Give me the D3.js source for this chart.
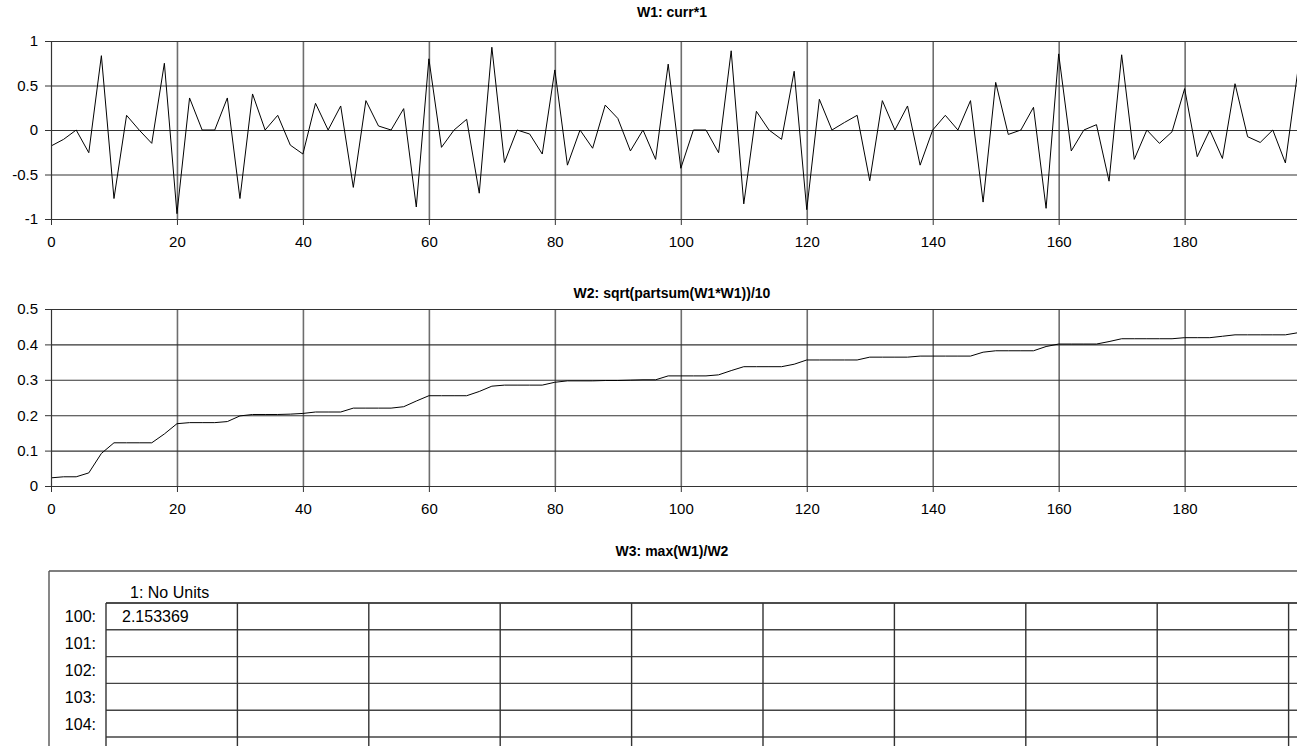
<!DOCTYPE html>
<html>
<head>
<meta charset="utf-8">
<script src="https://cdn.jsdelivr.net/npm/d3@7"></script>
<style>
  html, body { margin: 0; padding: 0; background: #fff; }
  svg { display: block; }
  text { font-family: "Liberation Sans", Arial, sans-serif; fill: #000; }
</style>
</head>
<body>
<svg id="chart" width="1297" height="746"></svg>
<script>
// ---------------- data ----------------
const xValues = d3.range(0, 200, 2); // sample positions 0..198

const w1Values = [
  -0.18, -0.105, 0, -0.255, 0.835, -0.77, 0.165, 0.0, -0.15, 0.75,
  -0.94, 0.36, 0, 0, 0.36, -0.77, 0.405, 0, 0.165, -0.17,
  -0.27, 0.30, 0, 0.27, -0.645, 0.33, 0.045, 0.0, 0.24, -0.865,
  0.80, -0.195, 0, 0.12, -0.71, 0.93, -0.365, 0, -0.045, -0.27,
  0.675, -0.395, 0, -0.205, 0.28, 0.13, -0.235, 0, -0.33, 0.74,
  -0.43, 0, 0, -0.255, 0.89, -0.83, 0.21, 0, -0.105, 0.66,
  -0.895, 0.345, 0, 0.085, 0.165, -0.57, 0.33, 0, 0.27, -0.395,
  0, 0.165, 0, 0.33, -0.81, 0.535, -0.05, 0, 0.255, -0.88,
  0.855, -0.235, 0, 0.06, -0.575, 0.845, -0.33, 0, -0.15, -0.02,
  0.465, -0.30, 0, -0.32, 0.52, -0.075, -0.14, 0, -0.37, 0.68
];

const w2Values = [
  0.023, 0.026, 0.026, 0.037, 0.092, 0.122, 0.122, 0.122, 0.122, 0.147,
  0.176, 0.179, 0.179, 0.179, 0.182, 0.198, 0.202, 0.202, 0.202, 0.203,
  0.205, 0.209, 0.209, 0.209, 0.220, 0.220, 0.220, 0.220, 0.224, 0.240,
  0.255, 0.255, 0.255, 0.255, 0.267, 0.282, 0.285, 0.285, 0.285, 0.285,
  0.293, 0.297, 0.297, 0.297, 0.298, 0.298, 0.299, 0.300, 0.300, 0.311,
  0.311, 0.311, 0.311, 0.314, 0.326, 0.337, 0.337, 0.337, 0.337, 0.344,
  0.356, 0.356, 0.356, 0.356, 0.356, 0.364, 0.364, 0.364, 0.364, 0.367,
  0.367, 0.367, 0.367, 0.367, 0.378, 0.382, 0.382, 0.382, 0.382, 0.394,
  0.401, 0.401, 0.401, 0.401, 0.408, 0.416, 0.416, 0.416, 0.416, 0.416,
  0.419, 0.419, 0.419, 0.423, 0.427, 0.427, 0.427, 0.427, 0.427, 0.433
];

const xTicks = [0, 20, 40, 60, 80, 100, 120, 140, 160, 180];
const w1Ticks = [-1, -0.5, 0, 0.5, 1];
const w2Ticks = [0, 0.1, 0.2, 0.3, 0.4, 0.5];

const titles = ["W1: curr*1", "W2: sqrt(partsum(W1*W1))/10", "W3: max(W1)/W2"];

const tableHeader = "1: No Units";
const tableRows = ["100:", "101:", "102:", "103:", "104:"];
const tableCells = ["2.153369", "", "", "", ""];

// ---------------- drawing ----------------
const svg = d3.select("#chart");
const W = 1297;
const plotLeft = 51;
const plotRight = 1298;

const x = d3.scaleLinear().domain([0, 198]).range([plotLeft, plotRight]);

function drawPanel(cfg) {
  const y = d3.scaleLinear().domain(cfg.domain).range([cfg.bottom, cfg.top]);
  const g = svg.append("g");
  const h = cfg.bottom - cfg.top;

  // vertical gridlines
  g.append("g")
    .attr("transform", `translate(0,${cfg.bottom})`)
    .call(d3.axisBottom(x).tickValues(xTicks.filter(t => t > 0)).tickSize(-h).tickFormat(""))
    .call(s => s.select(".domain").remove())
    .call(s => s.selectAll("line").attr("stroke", "#6e6e6e").attr("stroke-width", 1.6));

  // horizontal gridlines (including borders)
  g.append("g")
    .attr("transform", `translate(${plotLeft},0)`)
    .call(d3.axisLeft(y).tickValues(cfg.ticks).tickSize(-(W - plotLeft + 5)).tickFormat(""))
    .call(s => s.select(".domain").remove())
    .call(s => s.selectAll("line").attr("stroke", "#333").attr("stroke-width", 1.1));

  // data line
  const clipId = "clip" + cfg.id;
  svg.append("clipPath").attr("id", clipId)
    .append("rect").attr("x", plotLeft).attr("y", cfg.top - 2).attr("width", W - plotLeft).attr("height", h + 4);
  g.append("path")
    .datum(xValues.map((d, i) => [d, cfg.values[i]]))
    .attr("clip-path", `url(#${clipId})`)
    .attr("fill", "none")
    .attr("stroke", "#000")
    .attr("stroke-width", 1)
    .attr("d", d3.line().x(d => x(d[0])).y(d => y(d[1])));

  // x axis
  const xa = g.append("g")
    .attr("transform", `translate(0,${cfg.bottom})`)
    .call(d3.axisBottom(x).tickValues(xTicks).tickSize(6).tickPadding(11).tickSizeOuter(0));
  xa.select(".domain").remove();
  xa.selectAll("line").attr("stroke", "#333");
  xa.selectAll("text").style("font-size", "15px").attr("font-family", null);

  // y axis
  const ya = g.append("g")
    .attr("transform", `translate(${plotLeft},0)`)
    .call(d3.axisLeft(y).tickValues(cfg.ticks).tickSize(6).tickPadding(7).tickSizeOuter(0)
      .tickFormat(d => String(d)));
  ya.select(".domain").attr("stroke", "#333").attr("stroke-width", 1.2);
  ya.selectAll("line").attr("stroke", "#333");
  ya.selectAll("text").style("font-size", "15px").attr("font-family", null);

  // title
  svg.append("text")
    .attr("x", 672).attr("y", cfg.titleY)
    .attr("text-anchor", "middle")
    .style("font-size", "14px").style("font-weight", "bold")
    .text(cfg.title);
}

drawPanel({ id: 1, values: w1Values, domain: [-1, 1], ticks: w1Ticks, top: 41, bottom: 219, title: titles[0], titleY: 17 });
drawPanel({ id: 2, values: w2Values, domain: [0, 0.5], ticks: w2Ticks, top: 309, bottom: 486, title: titles[1], titleY: 298 });

// ---------------- W3 table ----------------
svg.append("text")
  .attr("x", 672).attr("y", 556)
  .attr("text-anchor", "middle")
  .style("font-size", "14px").style("font-weight", "bold")
  .text(titles[2]);

const tableTop = 571, tableLeft = 49;
const gridTop = 603, rowH = 26.8;
const colX = d3.scaleLinear().domain([0, 1]).range([106, 237.4]);
const nCols = 10;

const tg = svg.append("g");
// outer box
tg.append("line").attr("x1", tableLeft).attr("x2", W).attr("y1", tableTop).attr("y2", tableTop)
  .attr("stroke", "#555").attr("stroke-width", 1.4);
tg.append("line").attr("x1", tableLeft).attr("x2", tableLeft).attr("y1", tableTop).attr("y2", 746)
  .attr("stroke", "#555").attr("stroke-width", 1.4);

// row lines
const rowLines = d3.range(tableRows.length + 1);
tg.selectAll(".rowline").data(rowLines).enter().append("line")
  .attr("x1", colX(0)).attr("x2", W)
  .attr("y1", d => gridTop + d * rowH).attr("y2", d => gridTop + d * rowH)
  .attr("stroke", (d) => d === 0 ? "#111" : "#444").attr("stroke-width", 1.4);

// column lines
tg.selectAll(".colline").data(d3.range(nCols)).enter().append("line")
  .attr("x1", d => colX(d)).attr("x2", d => colX(d))
  .attr("y1", gridTop).attr("y2", 746)
  .attr("stroke", "#333").attr("stroke-width", 1.4);

// header
tg.append("text").attr("x", 130).attr("y", 598).style("font-size", "16px").text(tableHeader);

// row labels & cells
tg.selectAll(".rowlabel").data(tableRows).enter().append("text")
  .attr("x", 96).attr("y", (d, i) => gridTop + i * rowH + rowH / 2 + 6)
  .attr("text-anchor", "end").style("font-size", "16px").text(d => d);
tg.selectAll(".cell").data(tableCells).enter().append("text")
  .attr("x", 122).attr("y", (d, i) => gridTop + i * rowH + rowH / 2 + 6)
  .style("font-size", "16px").text(d => d);
</script>
</body>
</html>
